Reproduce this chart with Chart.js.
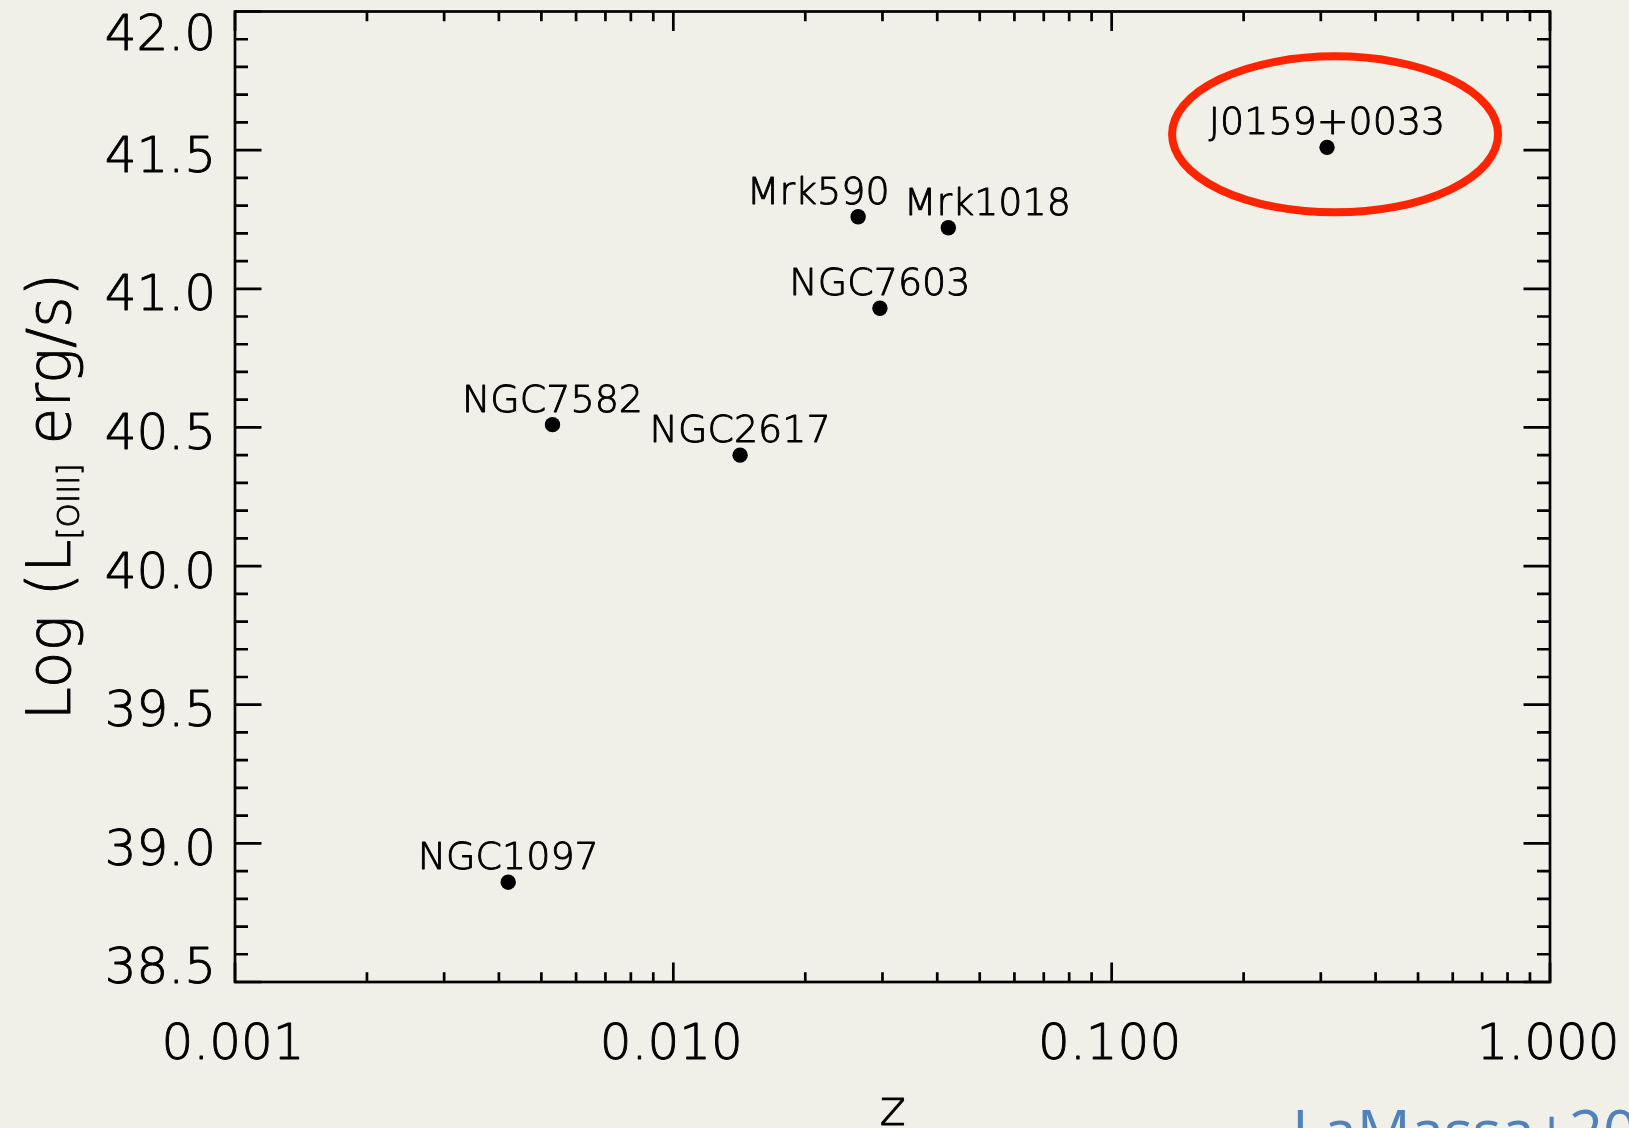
<!DOCTYPE html>
<html>
<head>
<meta charset="utf-8">
<title>[OIII] luminosity versus redshift</title>
<script src="https://cdn.jsdelivr.net/npm/chart.js@4/dist/chart.umd.min.js"></script>
<style>
  html, body { margin: 0; padding: 0; background: #f0efe8; }
  #wrap { position: relative; width: 1629px; height: 1128px; }
</style>
</head>
<body>
<div id="wrap"><canvas id="plot"></canvas></div>
<script>
// ---- data ----
const galaxyNames = ['NGC1097', 'NGC7582', 'NGC2617', 'Mrk590', 'NGC7603', 'Mrk1018', 'J0159+0033'];
const redshifts   = [0.0042, 0.0053, 0.0142, 0.0264, 0.0296, 0.0424, 0.31];
const logLOIII    = [38.86, 40.51, 40.40, 41.26, 40.93, 41.22, 41.51];

const xTickValues = [0.001, 0.01, 0.1, 1];
const xTickLabels = ['0.001', '0.010', '0.100', '1.000'];
const yTickValues = [38.5, 39.0, 39.5, 40.0, 40.5, 41.0, 41.5, 42.0];
const yTickLabels = ['38.5', '39.0', '39.5', '40.0', '40.5', '41.0', '41.5', '42.0'];

const highlighted = 'J0159+0033';
const citation = 'LaMassa+2015';

// ---- styling ----
const PAGE_BG = '#f0efe8';
const INK = '#000000';
const FONT = '"DejaVu Sans", "Liberation Sans", sans-serif';
const W = '300 ';   // light face for all plot lettering
const labelShiftX = { 'Mrk590': -40, 'Mrk1018': 39 };   // nudges to keep neighbouring names apart

// thin face plus a hairline outline gives an even, pen-like stroke
function penText(ctx, text, x, y) {
  ctx.fillText(text, x, y);
  ctx.strokeText(text, x, y);
}

const axisFrame = {
  id: 'axisFrame',
  beforeDraw(chart) {
    const { ctx, width, height } = chart;
    ctx.save();
    ctx.fillStyle = PAGE_BG;
    ctx.fillRect(0, 0, width, height);
    ctx.restore();
  },
  beforeDatasetsDraw(chart) {
    const { ctx, chartArea: { left, right, top, bottom }, scales: { x, y } } = chart;
    ctx.save();
    ctx.strokeStyle = INK;
    ctx.lineWidth = 2.7;
    ctx.lineCap = 'butt';

    // inward ticks on all four sides
    ctx.beginPath();
    const yStep = 0.1;
    const nY = Math.round((y.max - y.min) / yStep);
    for (let i = 0; i <= nY; i++) {
      const v = y.min + i * yStep;
      const py = y.getPixelForValue(v);
      const major = Math.abs(v * 2 - Math.round(v * 2)) < 1e-6;
      const len = major ? 26.5 : 13;
      ctx.moveTo(left, py);  ctx.lineTo(left + len, py);
      ctx.moveTo(right, py); ctx.lineTo(right - len, py);
    }
    const d0 = Math.floor(Math.log10(x.min) + 1e-9);
    const d1 = Math.ceil(Math.log10(x.max) - 1e-9);
    for (let d = d0; d <= d1; d++) {
      for (let k = 1; k <= 9; k++) {
        const v = k * Math.pow(10, d);
        if (v < x.min * 0.999 || v > x.max * 1.001) continue;
        const px = x.getPixelForValue(v);
        const len = k === 1 ? 19.5 : 9.8;
        ctx.moveTo(px, bottom); ctx.lineTo(px, bottom - len);
        ctx.moveTo(px, top);    ctx.lineTo(px, top + len);
      }
    }
    ctx.stroke();
    ctx.strokeRect(left, top, right - left, bottom - top);

    // tick labels
    ctx.fillStyle = INK;
    ctx.lineWidth = 0.9;
    ctx.lineJoin = 'round';
    ctx.font = W + '50px ' + FONT;
    ctx.textBaseline = 'alphabetic';
    const capH = ctx.measureText('0').actualBoundingBoxAscent;
    ctx.textAlign = 'right';
    yTickValues.forEach((v, i) => {
      const py = y.getPixelForValue(v);
      let base = py + capH / 2 + 3;
      base = Math.min(Math.max(base, top + capH + 1), bottom + 1);
      penText(ctx, yTickLabels[i], left - 19, base);
    });
    ctx.textAlign = 'center';
    xTickValues.forEach((v, i) => {
      const px = x.getPixelForValue(v);
      penText(ctx, xTickLabels[i], px - 2, bottom + 77);
    });

    // x title
    ctx.font = W + '50px ' + FONT;
    penText(ctx, 'z', (left + right) / 2, bottom + 143);

    // y title with subscript
    const big = W + '60px ' + FONT, small = W + '31px ' + FONT;
    const parts = [
      { t: 'Log (L', f: big, dy: 0 },
      { t: '[OIII]', f: small, dy: 9 },
      { t: ' erg/s)', f: big, dy: 0 }
    ];
    let total = 0;
    parts.forEach(p => { ctx.font = p.f; p.w = ctx.measureText(p.t).width; total += p.w; });
    ctx.translate(70, (top + bottom) / 2);
    ctx.rotate(-Math.PI / 2);
    ctx.textAlign = 'left';
    let cx = -total / 2;
    parts.forEach(p => { ctx.font = p.f; penText(ctx, p.t, cx, p.dy); cx += p.w; });
    ctx.restore();
  },
  afterDatasetsDraw(chart) {
    const { ctx } = chart;
    const pts = chart.getDatasetMeta(0).data;
    ctx.save();
    ctx.fillStyle = INK;
    ctx.strokeStyle = INK;
    ctx.lineWidth = 0.9;
    ctx.lineJoin = 'round';
    ctx.font = W + '38px ' + FONT;
    ctx.textAlign = 'center';
    ctx.textBaseline = 'alphabetic';
    galaxyNames.forEach((name, i) => {
      const p = pts[i];
      penText(ctx, name, p.x + (labelShiftX[name] || 0), p.y - 13);
    });

    // highlight ring round the changing-look quasar
    const h = pts[galaxyNames.indexOf(highlighted)];
    ctx.strokeStyle = '#ff2400';
    ctx.lineWidth = 8;
    ctx.beginPath();
    ctx.ellipse(h.x + 8, h.y - 13, 163, 78, 0, 0, Math.PI * 2);
    ctx.stroke();

    // reference note, running off the lower right edge
    ctx.font = '60px "Open Sans", "Liberation Sans", sans-serif';
    ctx.fillStyle = '#4f81bd';
    ctx.textAlign = 'left';
    const m = ctx.measureText('L');
    ctx.fillText(citation, 1297 + m.actualBoundingBoxLeft, 1110 + m.actualBoundingBoxAscent);
    ctx.restore();
  }
};

new Chart(document.getElementById('plot'), {
  type: 'scatter',
  data: {
    datasets: [{
      label: 'AGN',
      data: redshifts.map((z, i) => ({ x: z, y: logLOIII[i] })),
      backgroundColor: INK,
      borderWidth: 0,
      pointRadius: 7.7,
      pointHoverRadius: 7.7
    }]
  },
  options: {
    responsive: true,
    maintainAspectRatio: false,
    animation: false,
    events: [],
    layout: { padding: { left: 235, top: 11.5, right: 79, bottom: 146 } },
    plugins: { legend: { display: false }, tooltip: { enabled: false } },
    scales: {
      x: { type: 'logarithmic', min: 0.001, max: 1, display: false },
      y: { type: 'linear', min: 38.5, max: 42, display: false }
    }
  },
  plugins: [axisFrame]
});
</script>
</body>
</html>
